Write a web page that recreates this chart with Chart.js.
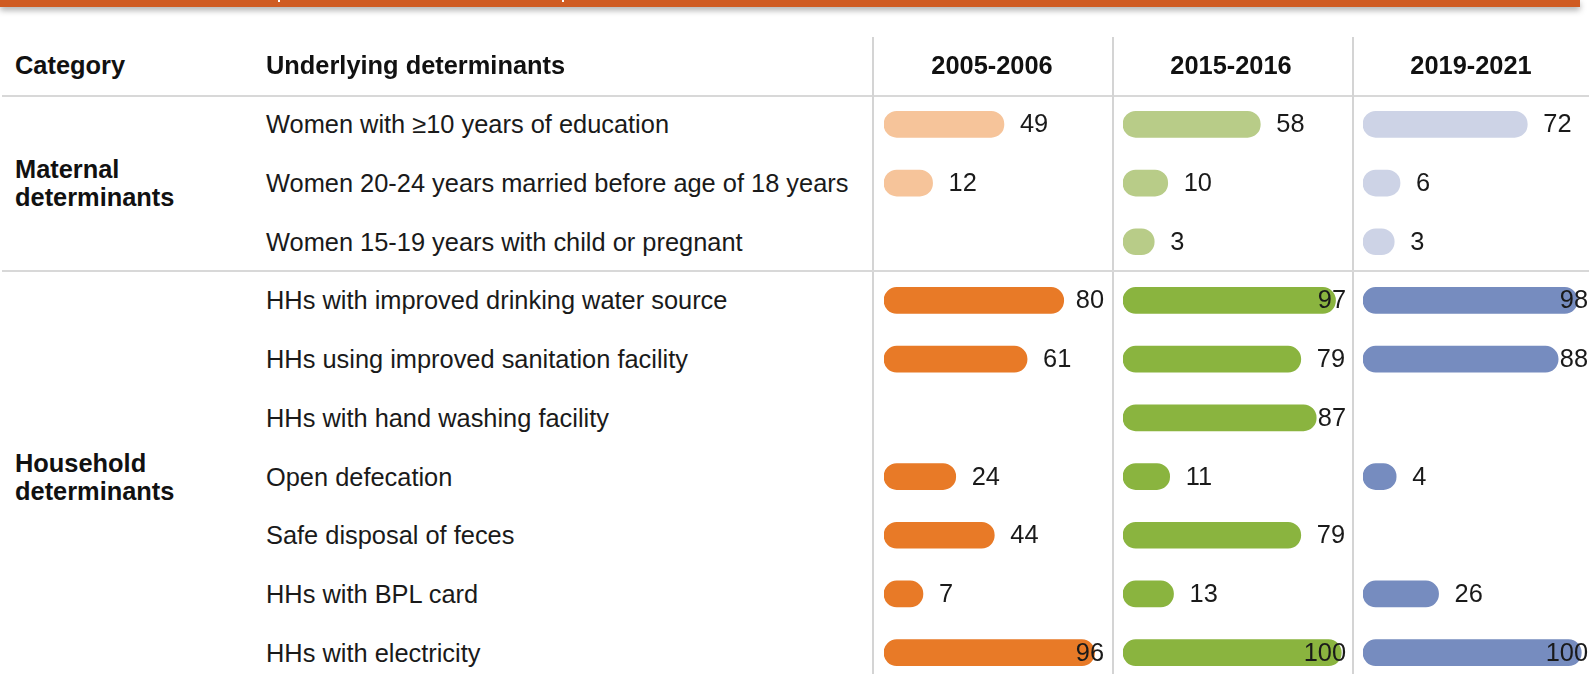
<!DOCTYPE html>
<html>
<head>
<meta charset="utf-8">
<script src="https://cdn.jsdelivr.net/npm/chart.js@4.4.0/dist/chart.umd.min.js"></script>
<style>
  html, body { margin: 0; padding: 0; width: 1589px; height: 674px; overflow: hidden; background: #fff; }
  body { position: relative; font-family: "Liberation Sans", Arial, sans-serif; color: #1a1a1a; }
  .band { position: absolute; left: 0; top: 0; width: 1580px; height: 7px; background: #cf5b22; box-shadow: 0 3px 6px rgba(0,0,0,0.35); }
  .nick { position: absolute; top: 0; width: 2px; height: 2px; background: #fff; }
  .hline { position: absolute; left: 2px; width: 1587px; height: 2px; background: #d8d8d8; }
  .vline { position: absolute; width: 2px; top: 37px; height: 640px; background: #d4d4d4; }
  .txt { position: absolute; font-size: 25.4px; line-height: 28px; white-space: nowrap; }
  .hdr { font-weight: bold; color: #111; }
  .panel { position: absolute; top: 95px; }
</style>
</head>
<body>
<div class="band"></div>
<div class="nick" style="left:278px"></div>
<div class="nick" style="left:562px"></div>
<div id="page"></div>

<script>
const periods = ['2005-2006', '2015-2016', '2019-2021'];
const determinants = [
    'Women with \u226510 years of education',
    'Women 20-24 years married before age of 18 years',
    'Women 15-19 years with child or pregnant',
    'HHs with improved drinking water source',
    'HHs using improved sanitation facility',
    'HHs with hand washing facility',
    'Open defecation',
    'Safe disposal of feces',
    'HHs with BPL card',
    'HHs with electricity'
];
const groupNames = ['Maternal\ndeterminants', 'Household\ndeterminants'];
const groupSizes = [3, 7];

const values0506 = [49, 12, null, 80, 61, null, 24, 44, 7, 96];
const values1516 = [58, 10, 3, 97, 79, 87, 11, 79, 13, 100];
const values1921 = [72, 6, 3, 98, 88, null, 4, null, 26, 100];
const allValues = [values0506, values1516, values1921];

const strongColors = ['#e87a27', '#8ab43f', '#768cbf'];
const lightColors = ['#f6c49a', '#b8cc88', '#cdd3e6'];

// layout
const panelLeft = [884, 1123, 1363];
const panelWidth = [221, 224, 226];
const separators = [872, 1112, 1352];
const chartTop = 95;
const chartHeight = 587;
const capPad = 6.6; // round cap sticks out past the value
const xMax = 108;

const page = document.getElementById('page');

function addDiv(cls, style, text) {
    const d = document.createElement('div');
    d.className = cls;
    Object.assign(d.style, style);
    if (text !== undefined) d.textContent = text;
    page.appendChild(d);
    return d;
}

// rows of the first group get the light colour
const groupOfRow = [];
groupSizes.forEach((n, g) => { for (let i = 0; i < n; i++) groupOfRow.push(g); });

const valueLabels = {
    id: 'valueLabels',
    afterDatasetsDraw(chart) {
        const ctx = chart.ctx;
        const vals = chart.data.datasets[0].rawValues;
        const meta = chart.getDatasetMeta(0);
        ctx.save();
        ctx.font = '25.4px "Liberation Sans", Arial, sans-serif';
        ctx.fillStyle = '#1a1a1a';
        ctx.textBaseline = 'middle';
        meta.data.forEach((bar, i) => {
            if (vals[i] == null) return;
            const txt = String(vals[i]);
            const w = ctx.measureText(txt).width;
            const x = Math.min(bar.x + 16, chart.width - 1 - w);
            ctx.fillText(txt, x, bar.y + 1);
        });
        ctx.restore();
    }
};

const charts = allValues.map((vals, p) => {
    const canvas = document.createElement('canvas');
    canvas.className = 'panel';
    canvas.width = panelWidth[p];
    canvas.height = chartHeight;
    canvas.style.left = panelLeft[p] + 'px';
    page.appendChild(canvas);

    return new Chart(canvas, {
        type: 'bar',
        data: {
            labels: determinants,
            datasets: [{
                rawValues: vals,
                data: vals.map((v) => v == null ? null : [-capPad, v + capPad]),
                backgroundColor: groupOfRow.map((g) => g === 0 ? lightColors[p] : strongColors[p]),
                borderRadius: 13,
                borderSkipped: false,
                barThickness: 26
            }]
        },
        options: {
            indexAxis: 'y',
            responsive: false,
            animation: false,
            events: [],
            layout: { padding: { left: 0, right: panelWidth[p] - 221, top: 0, bottom: 0 } },
            plugins: { legend: { display: false }, tooltip: { enabled: false } },
            scales: {
                x: { display: false, min: -capPad, max: xMax },
                y: { display: false }
            }
        },
        plugins: [valueLabels]
    });
});

// table text and rules, placed from the chart's row scale
const yScale = charts[0].scales.y;
const rowY = determinants.map((d, i) => chartTop + yScale.getPixelForValue(i));

addDiv('hline', { top: '95px' });
separators.forEach((x) => addDiv('vline', { left: x + 'px' }));

addDiv('txt hdr', { left: '15px', top: (65 - 14) + 'px' }, 'Category');
addDiv('txt hdr', { left: '266px', top: (65 - 14) + 'px' }, 'Underlying determinants');
periods.forEach((p, i) => {
    addDiv('txt hdr', { left: panelLeft[i] - 12 + 'px', width: '240px', textAlign: 'center', top: (65 - 14) + 'px' }, p);
});

determinants.forEach((d, i) => {
    addDiv('txt', { left: '266px', top: (rowY[i] - 14) + 'px' }, d);
});

let start = 0;
groupNames.forEach((name, g) => {
    const end = start + groupSizes[g] - 1;
    const mid = (rowY[start] + rowY[end]) / 2;
    const lines = name.split('\n');
    addDiv('txt hdr', { left: '15px', top: (mid - lines.length * 14) + 'px' }, '').innerHTML = lines.join('<br>');
    if (g < groupNames.length - 1) {
        addDiv('hline', { top: Math.round((rowY[end] + rowY[end + 1]) / 2 - 1) + 'px' });
    }
    start = end + 1;
});
</script>
</body>
</html>
